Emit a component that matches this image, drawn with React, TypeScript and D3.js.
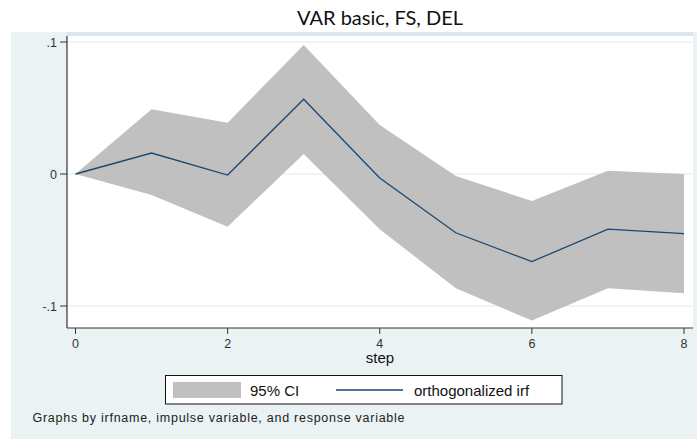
import React from 'react'
import { scaleLinear, line, area } from 'd3'

const steps = [0, 1, 2, 3, 4, 5, 6, 7, 8]
const irf = [0, 0.0159, -0.0008, 0.0566, -0.003, -0.0445, -0.0664, -0.0417, -0.0452]
const upper = [0, 0.049, 0.0389, 0.0977, 0.0371, -0.0015, -0.0205, 0.0025, 0.0]
const lower = [0, -0.0159, -0.040, 0.0152, -0.0419, -0.0866, -0.111, -0.0866, -0.0904]
const yTicks = [-0.1, 0, 0.1]
const yTickLabels = ['-.1', '0', '.1']
const xTicks = [0, 2, 4, 6, 8]

const navy = '#1a476f'
const ciGrey = '#c0c0c0'
const bg = '#eaf2f3'
const sans = '"Liberation Sans", Arial, sans-serif'

const App = () => {
    const W = 697, H = 439
    const plot = { left: 67, top: 36, right: 693, bottom: 328 }

    const x = scaleLinear().domain([0, 8]).range([75.5, 684])
    const y = scaleLinear().domain([-0.1, 0.1]).range([306, 42])

    const band = area<number>()
        .x(i => x(steps[i]))
        .y0(i => y(lower[i]))
        .y1(i => y(upper[i]))
    const irfLine = line<number>()
        .x(i => x(steps[i]))
        .y(i => y(irf[i]))
    const idx = steps.map((_, i) => i)

    return (
        <svg width={W} height={H} style={{ position: 'absolute', left: 0, top: 0 }}>
            <rect x={0} y={0} width={W} height={H} fill="#fff" />
            <rect x={11} y={32} width={W - 11} height={H - 32} fill={bg} />
            <rect x={plot.left} y={32} width={plot.right - plot.left} height={4} fill="#dce6ee" />
            <rect x={plot.left} y={plot.top} width={plot.right - plot.left} height={plot.bottom - plot.top} fill="#fff" />

            {yTicks.map(t =>
                <line key={'g' + t} x1={plot.left} x2={plot.right} y1={y(t)} y2={y(t)} stroke={bg} strokeWidth={1.5} />
            )}

            <path d={band(idx) || ''} fill={ciGrey} />
            <path d={irfLine(idx) || ''} fill="none" stroke={navy} strokeWidth={1.3} />

            <line x1={plot.left} x2={plot.left} y1={plot.top} y2={plot.bottom} stroke="#333" strokeWidth={1.2} />
            <line x1={plot.left} x2={plot.right} y1={plot.bottom} y2={plot.bottom} stroke="#333" strokeWidth={1.2} />

            {yTicks.map((t, i) =>
                <g key={'y' + t}>
                    <line x1={plot.left - 7} x2={plot.left} y1={y(t)} y2={y(t)} stroke="#333" strokeWidth={1} />
                    <text x={57} y={y(t) + 4.5} textAnchor="end" fontFamily={sans} fontSize={12.5} fill="#333">{yTickLabels[i]}</text>
                </g>
            )}
            {xTicks.map(t =>
                <g key={'x' + t}>
                    <line x1={x(t)} x2={x(t)} y1={plot.bottom} y2={plot.bottom + 6} stroke="#333" strokeWidth={1} />
                    <text x={x(t)} y={347.5} textAnchor="middle" fontFamily={sans} fontSize={12.5} fill="#333">{t}</text>
                </g>
            )}

            <text x={380} y={363} textAnchor="middle" fontFamily={sans} fontSize={15} fill="#111">step</text>

            <text x={380} y={25} textAnchor="middle" fontFamily="Lato, 'Open Sans', sans-serif" fontSize={20}
                textLength={166} lengthAdjust="spacingAndGlyphs" fill="#111">VAR basic, FS, DEL</text>

            <rect x={165.5} y={375.5} width={396.5} height={28.5} fill="#fff" stroke="#111" strokeWidth={1} />
            <rect x={173} y={382} width={68} height={16} fill={ciGrey} />
            <text x={250} y={396} fontFamily={sans} fontSize={15} fill="#111">95% CI</text>
            <line x1={336} x2={403} y1={390} y2={390} stroke={navy} strokeWidth={1.5} />
            <text x={414} y={396} fontFamily={sans} fontSize={15} fill="#111">orthogonalized irf</text>

            <text x={32.5} y={422} fontFamily={sans} fontSize={12.5} fill="#222"
                textLength={372} lengthAdjust="spacing">Graphs by irfname, impulse variable, and response variable</text>
        </svg>
    )
}

export default App
